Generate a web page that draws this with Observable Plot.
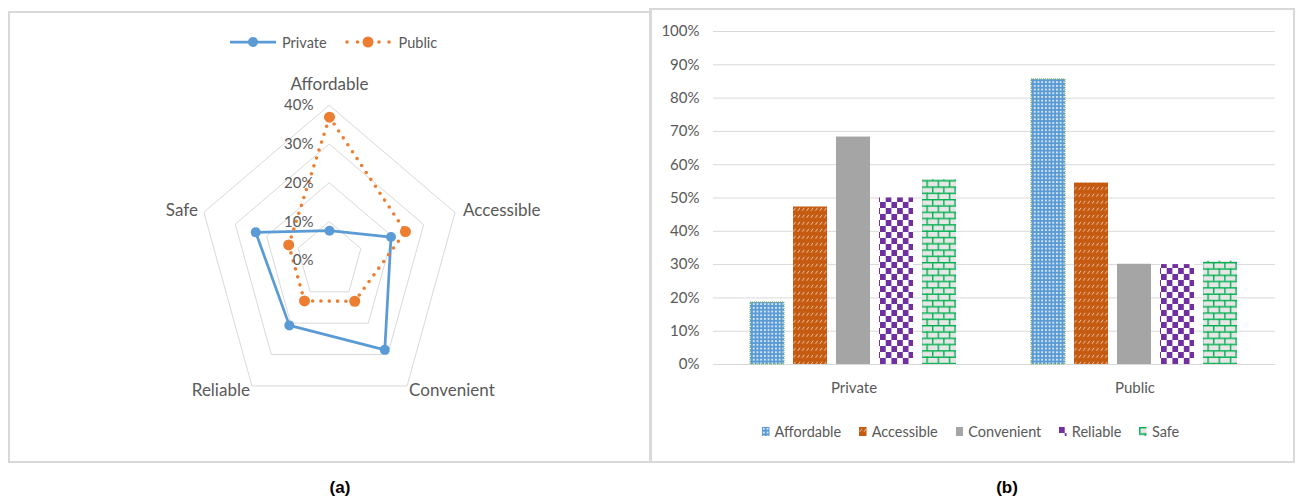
<!DOCTYPE html>
<html><head><meta charset="utf-8">
<script src="https://cdn.jsdelivr.net/npm/d3@7"></script>
<script src="https://cdn.jsdelivr.net/npm/@observablehq/plot@0.6"></script>
<style>
body{margin:0;width:1298px;height:497px;background:#fff;position:relative;overflow:hidden;font-family:Lato,"Open Sans",sans-serif;color:#595959}
.panel{position:absolute;box-sizing:border-box;border:2px solid #d9d9d9}
#pa{left:8px;top:11px;width:643px;height:452px}
#pb{left:649px;top:8px;width:646px;height:455px;border-width:2px 2px 2px 3px}
.cap{position:absolute;top:478px;width:80px;text-align:center;font:bold 17px "Liberation Sans",Arial,sans-serif;color:#000;line-height:20px}
#legA{position:absolute;left:230px;top:33px;height:18px;display:flex;align-items:center;font-size:14.5px}
#legB{position:absolute;left:762px;top:422px;height:18px;display:flex;align-items:center;font-size:14.5px}
#legB .it{display:flex;align-items:center;margin-right:18px}
#legB svg{margin-right:5px}
#radar{position:absolute;left:0;top:0;width:650px;height:470px}
#bars{position:absolute;left:651px;top:10px;width:640px;height:392px}
</style></head>
<body>
<svg width="0" height="0" style="position:absolute">
<defs>
<pattern id="pAff" patternUnits="userSpaceOnUse" width="3.7" height="3.7">
<rect width="3.7" height="3.7" fill="#5B9BD5"/><circle cx="1.85" cy="1.85" r="0.95" fill="#fff"/>
</pattern>
<pattern id="pAcc" patternUnits="userSpaceOnUse" width="4.4" height="7">
<rect width="4.4" height="7" fill="#C55A11"/><path d="M0.7,4.8L2.7,1.8" stroke="#fff" stroke-width="0.8" stroke-opacity="0.85"/>
</pattern>
<pattern id="pRel" patternUnits="userSpaceOnUse" width="11.4" height="12">
<rect width="11.4" height="12" fill="#fff"/><rect width="5.7" height="6" fill="#7030A0"/><rect x="5.7" y="6" width="5.7" height="6" fill="#7030A0"/>
</pattern>
<pattern id="pSafe" patternUnits="userSpaceOnUse" width="11.2" height="12.6">
<rect width="11.2" height="12.6" fill="#E7E6E6"/>
<rect y="0" width="11.2" height="1.4" fill="#00B050"/><rect y="6.3" width="11.2" height="1.4" fill="#00B050"/>
<rect x="0" y="0" width="1.4" height="6.3" fill="#00B050"/><rect x="5.6" y="6.3" width="1.4" height="6.3" fill="#00B050"/>
</pattern>
</defs>
</svg>
<div class="panel" id="pa"></div>
<div class="panel" id="pb"></div>
<div id="radar"></div>
<div id="bars"></div>
<div id="legA"></div>
<div id="legB"></div>
<div class="cap" style="left:300px">(a)</div>
<div class="cap" style="left:967px">(b)</div>
<script>
// ---- data ----
const criteria = ["Affordable", "Accessible", "Convenient", "Reliable", "Safe"];
const series = ["Private", "Public"];
// (a) radar: share of respondents per criterion
const radarPrivate = [0.077, 0.196, 0.285, 0.207, 0.235];
const radarPublic = [0.370, 0.242, 0.130, 0.129, 0.130];
const radarTicks = [0, 0.1, 0.2, 0.3, 0.4];
// (b) bars
const barPrivate = [0.186, 0.473, 0.683, 0.500, 0.555];
const barPublic = [0.856, 0.545, 0.301, 0.300, 0.310];
const barTicks = [0, 0.1, 0.2, 0.3, 0.4, 0.5, 0.6, 0.7, 0.8, 0.9, 1.0];

// ---- styles ----
const seriesColor = {Private: "#5B9BD5", Public: "#ED7D31"};
const barFills = ["url(#pAff)", "url(#pAcc)", "#A5A5A5", "url(#pRel)", "url(#pSafe)"];
const textColor = "#595959";
const gridColor = "#d9d9d9";
const pct = d3.format(".0%");

// ---- radar (a) ----
const radarMax = radarTicks[radarTicks.length - 1];
const ang = i => i * 2 * Math.PI / criteria.length;
const toXY = (v, i) => ({x: v / radarMax * Math.sin(ang(i)), y: v / radarMax * Math.cos(ang(i))});
const rings = radarTicks.slice(1).flatMap(level => criteria.map((c, i) => ({level, ...toXY(level, i)})));
const ptsPrivate = criteria.map((c, i) => ({criterion: c, value: radarPrivate[i], ...toXY(radarPrivate[i], i)}));
const ptsPublic = criteria.map((c, i) => ({criterion: c, value: radarPublic[i], ...toXY(radarPublic[i], i)}));
const labelPts = criteria.map((c, i) => ({label: c, ...toXY(radarMax, i)}));
const labelPlacement = [
  {textAnchor: "middle", dx: 0, dy: -21},
  {textAnchor: "start", dx: 8, dy: -2},
  {textAnchor: "start", dx: 2, dy: 5},
  {textAnchor: "end", dx: -2, dy: 5},
  {textAnchor: "end", dx: -6, dy: -2}
];
const RW = 650, RH = 470, cx = 329, cy = 260, rx = 132, ry = 155;
const radar = Plot.plot({
  width: RW, height: RH, margin: 0,
  x: {domain: [-cx / rx, (RW - cx) / rx], axis: null},
  y: {domain: [(cy - RH) / ry, cy / ry], axis: null},
  style: {background: "transparent", fontFamily: "Lato, 'Open Sans', sans-serif", color: textColor},
  marks: [
    Plot.line(rings, {x: "x", y: "y", z: "level", curve: "linear-closed", stroke: gridColor, strokeWidth: 1}),
    Plot.line(ptsPrivate, {x: "x", y: "y", curve: "linear-closed", stroke: seriesColor.Private, strokeWidth: 2.75}),
    Plot.dot(ptsPrivate, {x: "x", y: "y", r: 5, fill: seriesColor.Private}),
    Plot.line(ptsPublic, {x: "x", y: "y", curve: "linear-closed", stroke: seriesColor.Public, strokeWidth: 3.6, strokeDasharray: "0 8.3", strokeLinecap: "round"}),
    Plot.dot(ptsPublic, {x: "x", y: "y", r: 5.5, fill: seriesColor.Public}),
    Plot.text(radarTicks, {x: 0, y: d => d / radarMax, text: d => pct(d), textAnchor: "end", dx: -16, fontSize: 15, fill: textColor}),
    ...labelPts.map((d, i) => Plot.text([d], {x: "x", y: "y", text: "label", fontSize: 17, fill: textColor, ...labelPlacement[i]}))
  ]
});
document.getElementById("radar").appendChild(radar);

// legend (a)
const legA = document.getElementById("legA");
legA.innerHTML =
  `<svg width="46" height="14"><line x1="0" x2="46" y1="7" y2="7" stroke="${seriesColor.Private}" stroke-width="2.75"/><circle cx="23" cy="7" r="5" fill="${seriesColor.Private}"/></svg>` +
  `<span style="margin-left:6px">${series[0]}</span>` +
  `<svg width="46" height="14" style="margin-left:18px"><g fill="${seriesColor.Public}"><circle cx="2" cy="7" r="1.8"/><circle cx="12.5" cy="7" r="1.8"/><circle cx="23" cy="7" r="5.5"/><circle cx="34" cy="7" r="1.8"/><circle cx="44" cy="7" r="1.8"/></g></svg>` +
  `<span style="margin-left:8px">${series[1]}</span>`;

// ---- bars (b) ----
const barData = series.flatMap((g, gi) => criteria.map((c, i) => ({group: g, criterion: c, value: (gi === 0 ? barPrivate : barPublic)[i]})));
const bars = Plot.plot({
  width: 640, height: 392,
  marginLeft: 61, marginRight: 16, marginTop: 21, marginBottom: 38,
  fx: {domain: series, padding: 0, label: null},
  x: {domain: criteria, paddingInner: 0.2, paddingOuter: 0.85, axis: null},
  y: {domain: [0, 1], axis: null},
  color: {domain: criteria, range: barFills},
  style: {background: "transparent", fontFamily: "Lato, 'Open Sans', sans-serif", fontSize: "15px", color: textColor},
  marks: [
    Plot.gridY(barTicks, {stroke: gridColor, strokeOpacity: 1, strokeWidth: 1}),
    Plot.barY(barData, {fx: "group", x: "criterion", y: "value", fill: "criterion"}),
    Plot.barY(barData.filter(d => d.criterion === criteria[0]), {fx: "group", x: "criterion", y: "value", fill: "none", stroke: "#70AD47", strokeWidth: 1, strokeDasharray: "1 1"}),
    Plot.axisY(barTicks, {tickSize: 0, tickPadding: 14, tickFormat: pct, label: null, fontSize: 15}),
    Plot.axisFx({anchor: "bottom", tickSize: 0, tickPadding: 18, label: null, fontSize: 15})
  ]
});
document.getElementById("bars").appendChild(bars);

// legend (b)
const legB = document.getElementById("legB");
legB.innerHTML = criteria.map((c, i) =>
  `<div class="it"><svg width="7.5" height="9"><rect width="7.5" height="9" fill="${barFills[i]}"/></svg><span>${c}</span></div>`
).join("");
</script>
</body></html>
